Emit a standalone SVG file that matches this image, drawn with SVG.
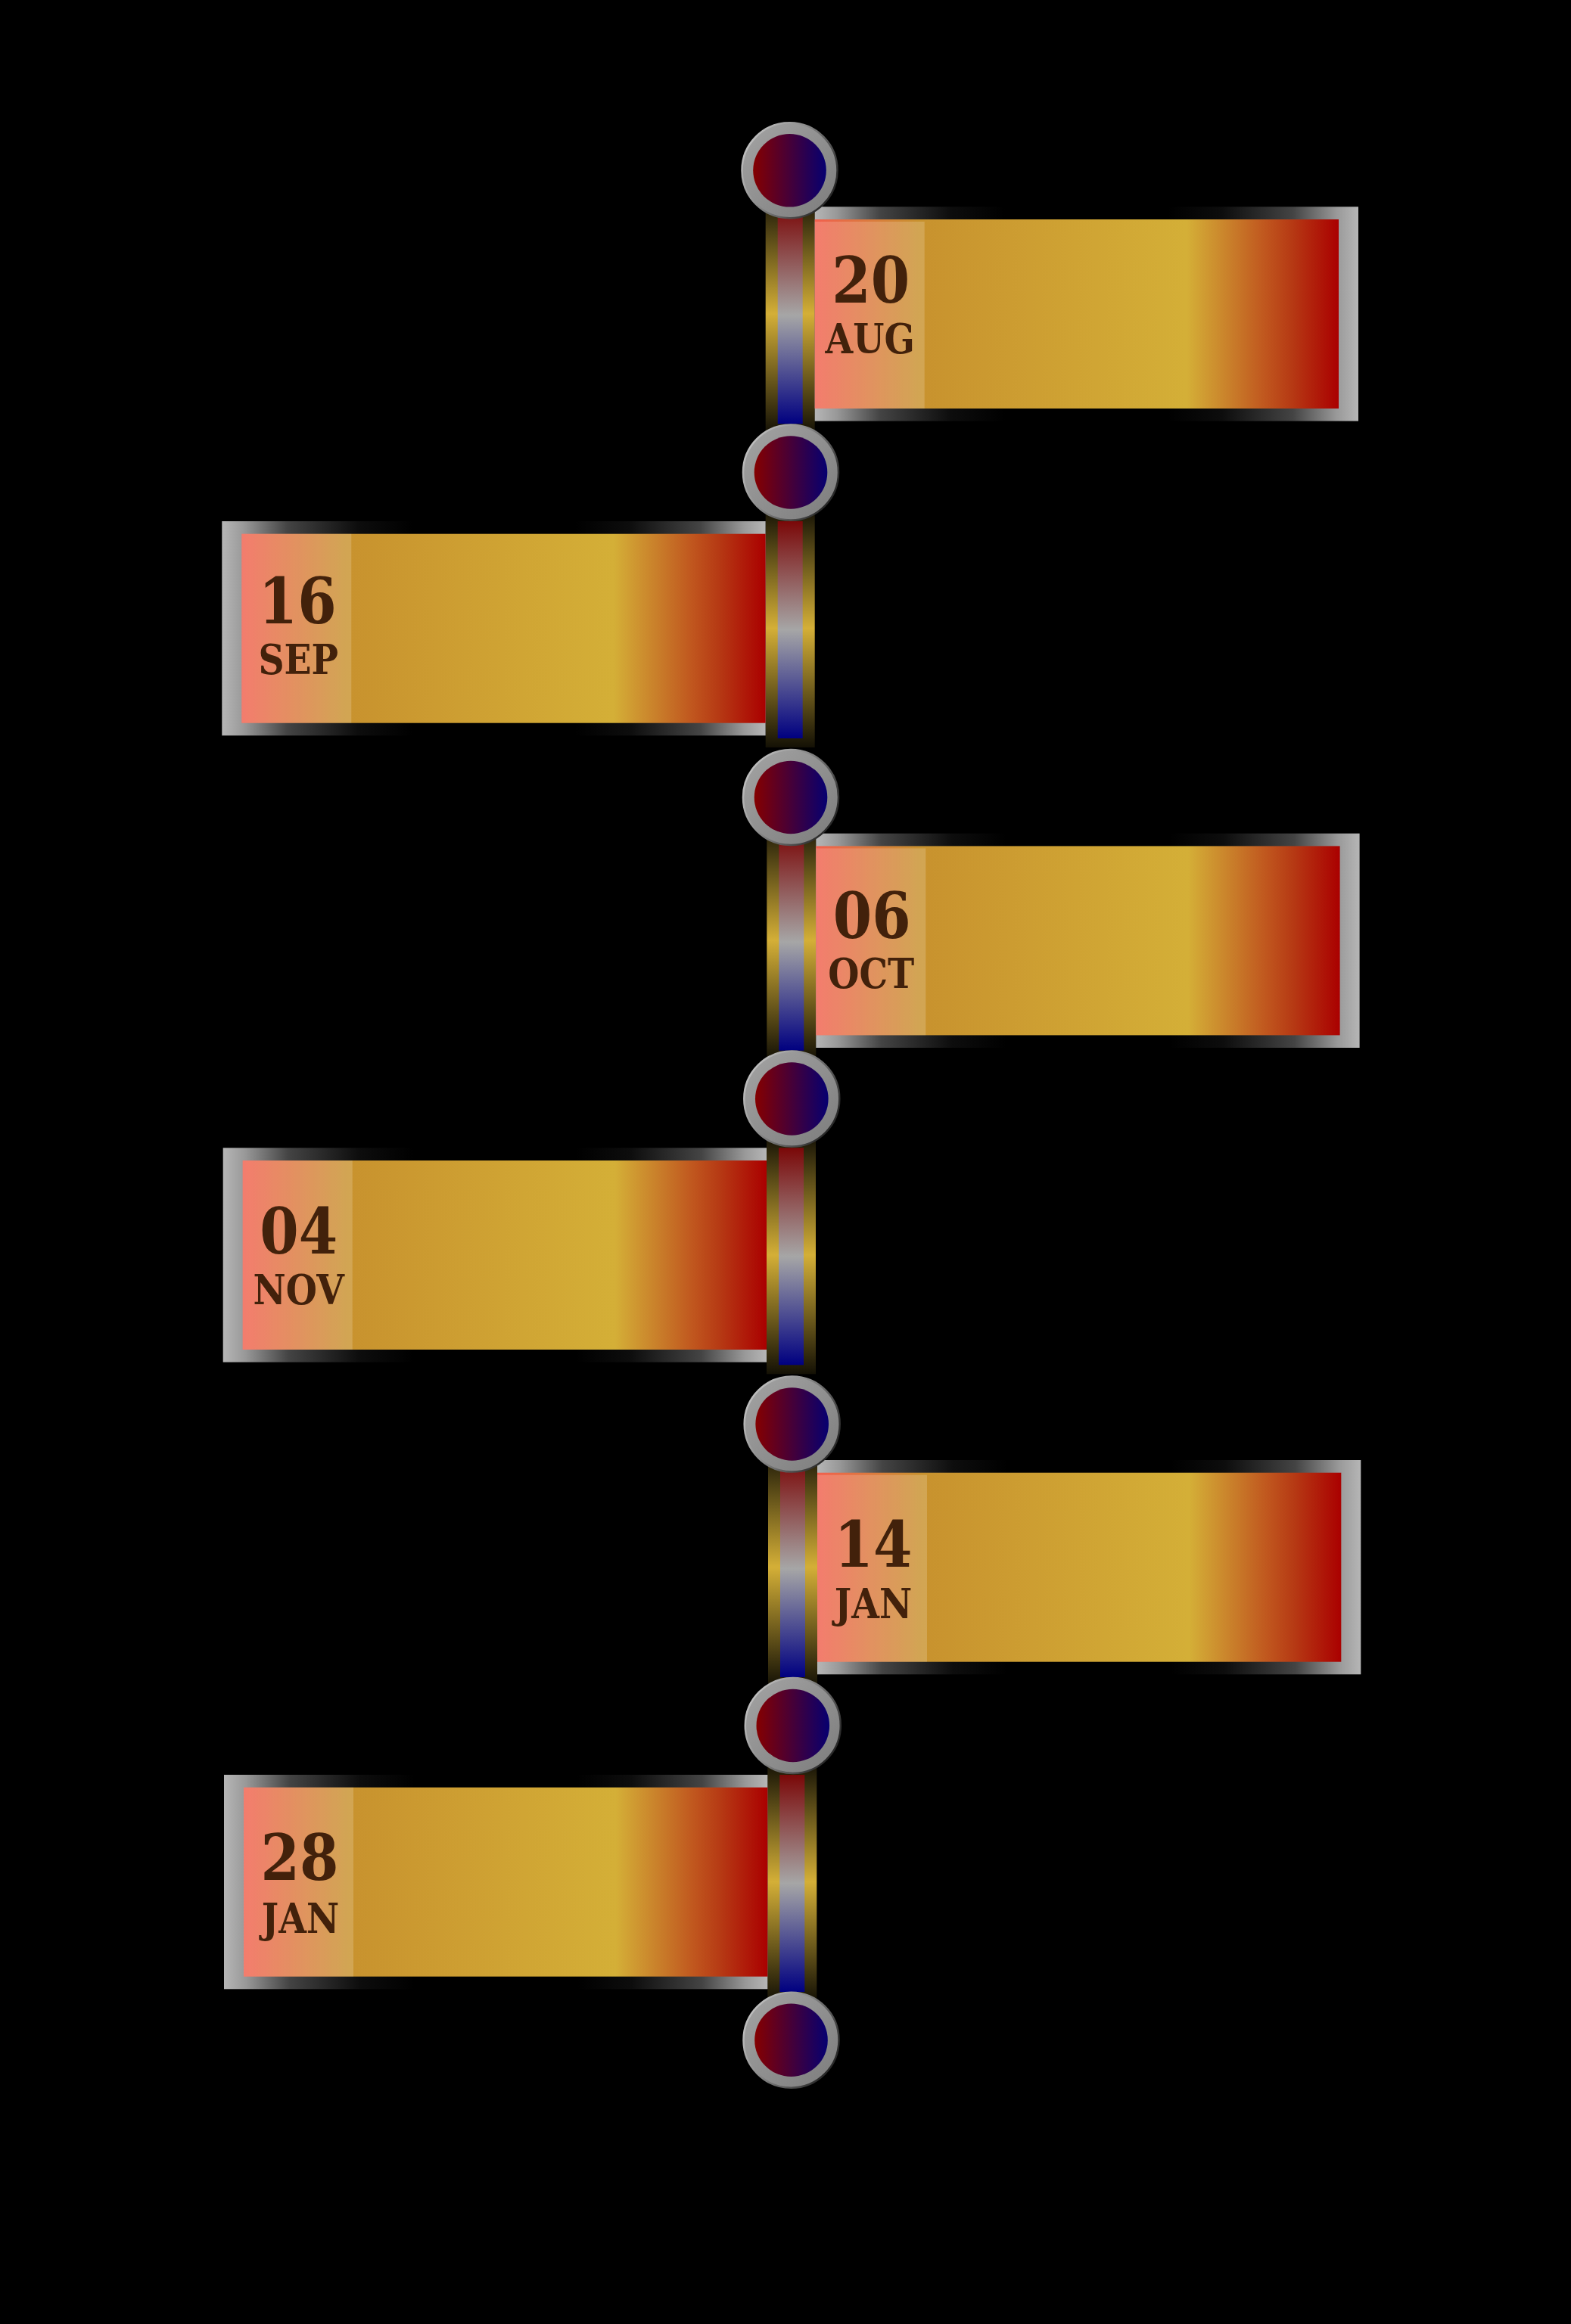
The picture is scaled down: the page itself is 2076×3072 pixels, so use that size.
<svg xmlns="http://www.w3.org/2000/svg" width="2076" height="3072" viewBox="0 0 2076 3072">
<defs>
<linearGradient id="gFrame" x1="0" y1="0" x2="1" y2="0">
<stop offset="0" stop-color="#b6b6b6"/><stop offset="0.04" stop-color="#999"/><stop offset="0.12" stop-color="#444"/><stop offset="0.25" stop-color="#0d0d0d"/><stop offset="0.35" stop-color="#000"/><stop offset="0.65" stop-color="#000"/><stop offset="0.75" stop-color="#0d0d0d"/><stop offset="0.88" stop-color="#444"/><stop offset="0.96" stop-color="#999"/><stop offset="1" stop-color="#b6b6b6"/>
</linearGradient>
<linearGradient id="gFill" x1="0" y1="0" x2="1" y2="0">
<stop offset="0" stop-color="#F1604E"/><stop offset="0.2" stop-color="#C8922E"/><stop offset="0.71" stop-color="#D4AF37"/><stop offset="0.8" stop-color="#C87A29"/><stop offset="0.86" stop-color="#C0561E"/><stop offset="0.91" stop-color="#B63A14"/><stop offset="1" stop-color="#AA0000"/>
</linearGradient>
<linearGradient id="gOuter" x1="0" y1="0" x2="0" y2="1">
<stop offset="0" stop-color="#141105"/><stop offset="0.5" stop-color="#D4AF37"/><stop offset="1" stop-color="#141105"/>
</linearGradient>
<linearGradient id="gInner" x1="0" y1="0" x2="0" y2="1">
<stop offset="0" stop-color="#7a0808"/><stop offset="0.5" stop-color="#A6A6A6"/><stop offset="1" stop-color="#000080"/>
</linearGradient>
<linearGradient id="gDot" x1="0" y1="0" x2="1" y2="0">
<stop offset="0" stop-color="#850000"/><stop offset="1" stop-color="#060070"/>
</linearGradient>
<linearGradient id="gRing" x1="0" y1="0" x2="1" y2="1">
<stop offset="0" stop-color="#a4a4a4"/><stop offset="1" stop-color="#7c7c7c"/>
</linearGradient>
<linearGradient id="gRingEdge" x1="0" y1="0" x2="1" y2="0.6">
<stop offset="0" stop-color="#d4d4d4"/><stop offset="0.5" stop-color="#8c8c8c"/><stop offset="1" stop-color="#2a2a2a"/>
</linearGradient>
</defs>
<style>
.frame{fill:url(#gFrame)}
.fill{fill:url(#gFill)}
.panel{fill:#fff;fill-opacity:0.18}
.day{font-family:'DejaVu Serif',serif;font-weight:bold;font-size:84px;fill:#42210B;text-anchor:middle}
.mon{font-family:'DejaVu Serif',serif;font-weight:bold;font-size:55px;fill:#42210B;text-anchor:middle}
.outer{fill:url(#gOuter)}
.inner{fill:url(#gInner)}
.ring{fill:url(#gRing);stroke:url(#gRingEdge);stroke-width:2.5}
.dot{fill:url(#gDot)}
</style>
<rect width="2076" height="3072" fill="#000"/>

<g id="connectors">
<g transform="translate(1011.7,273.3)"><rect class="outer" x="0" y="-16" width="65" height="315"/><rect class="inner" x="16" y="0" width="33" height="287"/></g>
<g transform="translate(1011.7,689)"><rect class="outer" x="0" y="-16" width="65" height="315"/><rect class="inner" x="16" y="0" width="33" height="287"/></g>
<g transform="translate(1013.3,1101.7)"><rect class="outer" x="0" y="-16" width="65" height="315"/><rect class="inner" x="16" y="0" width="33" height="287"/></g>
<g transform="translate(1013,1517.3)"><rect class="outer" x="0" y="-16" width="65" height="315"/><rect class="inner" x="16" y="0" width="33" height="287"/></g>
<g transform="translate(1015,1930)"><rect class="outer" x="0" y="-16" width="65" height="315"/><rect class="inner" x="16" y="0" width="33" height="287"/></g>
<g transform="translate(1014.3,2346)"><rect class="outer" x="0" y="-16" width="65" height="315"/><rect class="inner" x="16" y="0" width="33" height="287"/></g>
</g>

<g id="card-aug" transform="translate(1076.7,273.3)">
<rect class="frame" width="718.3" height="283.3"/>
<rect class="fill" x="0" y="16.7" width="692.3" height="250"/>
<rect class="panel" x="0" y="19.7" width="145" height="247"/>
<text class="day" transform="translate(74,126.7) scale(0.88,1)">20</text>
<text class="mon" transform="translate(73,193.4) scale(0.86,1)">AUG</text>
</g>
<g id="card-sep" transform="translate(293.3,689)">
<rect class="frame" width="718.3" height="283.3"/>
<rect class="fill" x="26" y="16.7" width="692.3" height="250"/>
<rect class="panel" x="26" y="16.7" width="145" height="250"/>
<text class="day" transform="translate(100,135) scale(0.88,1)">16</text>
<text class="mon" transform="translate(101,201.7) scale(0.86,1)">SEP</text>
</g>
<g id="card-oct" transform="translate(1078.3,1101.7)">
<rect class="frame" width="718.3" height="283.3"/>
<rect class="fill" x="0" y="16.7" width="692.3" height="250"/>
<rect class="panel" x="0" y="19.7" width="145" height="247"/>
<text class="day" transform="translate(74,138.7) scale(0.88,1)">06</text>
<text class="mon" transform="translate(73,204.7) scale(0.86,1)">OCT</text>
</g>
<g id="card-nov" transform="translate(294.7,1517.3)">
<rect class="frame" width="718.3" height="283.3"/>
<rect class="fill" x="26" y="16.7" width="692.3" height="250"/>
<rect class="panel" x="26" y="16.7" width="145" height="250"/>
<text class="day" transform="translate(100,139.5) scale(0.88,1)">04</text>
<text class="mon" transform="translate(100,206.5) scale(0.86,1)">NOV</text>
</g>
<g id="card-jan14" transform="translate(1080,1930)">
<rect class="frame" width="718.3" height="283.3"/>
<rect class="fill" x="0" y="16.7" width="692.3" height="250"/>
<rect class="panel" x="0" y="19.7" width="145" height="247"/>
<text class="day" transform="translate(74,140.7) scale(0.88,1)">14</text>
<text class="mon" transform="translate(74,208.7) scale(0.86,1)">JAN</text>
</g>
<g id="card-jan28" transform="translate(296,2346)">
<rect class="frame" width="718.3" height="283.3"/>
<rect class="fill" x="26" y="16.7" width="692.3" height="250"/>
<rect class="panel" x="26" y="16.7" width="145" height="250"/>
<text class="day" transform="translate(100,138.7) scale(0.88,1)">28</text>
<text class="mon" transform="translate(101,208.7) scale(0.86,1)">JAN</text>
</g>

<g id="dot1" transform="translate(1043.5,225.3)"><circle class="ring" r="63"/><circle class="dot" r="48.3"/></g>
<g id="dot2" transform="translate(1045,624.5)"><circle class="ring" r="63"/><circle class="dot" r="48.3"/></g>
<g id="dot3" transform="translate(1045,1054)"><circle class="ring" r="63"/><circle class="dot" r="48.3"/></g>
<g id="dot4" transform="translate(1046.3,1452.5)"><circle class="ring" r="63"/><circle class="dot" r="48.3"/></g>
<g id="dot5" transform="translate(1046.7,1882.5)"><circle class="ring" r="63"/><circle class="dot" r="48.3"/></g>
<g id="dot6" transform="translate(1047.8,2281)"><circle class="ring" r="63"/><circle class="dot" r="48.3"/></g>
<g id="dot7" transform="translate(1045.5,2696.7)"><circle class="ring" r="63"/><circle class="dot" r="48.3"/></g>
</svg>
